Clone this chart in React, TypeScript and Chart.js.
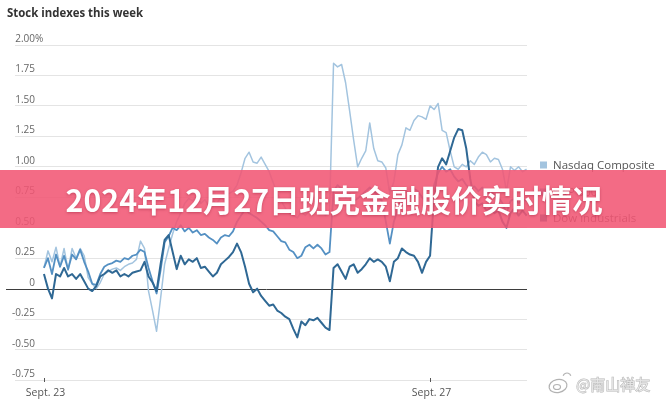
import { useEffect, useRef } from 'react';
import { Chart, registerables } from 'chart.js';
Chart.register(...registerables);

const chartTitle = 'Stock indexes this week';
const bannerText = '2024年12月27日班克金融股价实时情况';
const watermarkText = '@南山禅友';
const seriesNames = ['Nasdaq Composite', 'S&P 500', 'Dow industrials'];
const seriesColors = ['#a3c4df', '#5490c3', '#2f6894'];
const dayLabels = ['Sept. 23', 'Sept. 27'];
const dayTickIndex = [0, 96];
const yTicks = [-0.75, -0.5, -0.25, 0, 0.25, 0.5, 0.75, 1, 1.25, 1.5, 1.75, 2];
const yTickLabels = ['-0.75', '-0.50', '-0.25', '0', '0.25', '0.50', '0.75', '1.00', '1.25', '1.50', '1.75', '2.00'];

const nasdaq = [
  0.17, 0.31, 0.22, 0.34, 0.18, 0.33, 0.15, 0.33, 0.25, 0.33,
  0.27, 0.09, 0.04, 0.0, 0.05, 0.12, 0.14, 0.16, 0.17, 0.15,
  0.18, 0.2, 0.21, 0.24, 0.39, 0.33, -0.02, -0.18, -0.35, -0.08,
  0.2, 0.33, 0.45, 0.55, 0.62, 0.7, 0.74, 0.72, 0.76, 0.7,
  0.73, 0.68, 0.72, 0.7, 0.75, 0.72, 0.78, 0.8, 0.85, 0.95,
  1.07, 1.12, 1.04, 1.03, 1.08, 1.02, 0.96, 0.87, 0.78, 0.72,
  0.66, 0.62, 0.6, 0.58, 0.63, 0.6, 0.64, 0.62, 0.66, 0.63,
  0.6, 0.64, 1.85, 1.82, 1.84, 1.69, 1.46, 1.22, 1.0, 1.07,
  1.13, 1.36, 1.15, 1.05, 1.04, 0.99, 0.78, 0.88, 1.1, 1.18,
  1.32, 1.3, 1.38, 1.42, 1.41, 1.39, 1.5, 1.47, 1.52, 1.3,
  1.28, 1.13, 1.0, 0.98, 1.02, 1.0, 1.05, 1.02, 1.08, 1.12,
  1.1, 1.04, 1.07, 1.06, 0.98, 0.8, 1.0, 0.97, 1.0, 0.96,
  0.98,
];

const sp500 = [
  0.17, 0.25, 0.12, 0.28, 0.18, 0.27, 0.16, 0.28, 0.24, 0.32,
  0.22, 0.14, 0.04, 0.03, 0.12, 0.18, 0.2, 0.21, 0.23, 0.22,
  0.25, 0.24, 0.27, 0.28, 0.32, 0.3, 0.17, 0.06, -0.04, 0.15,
  0.38, 0.43, 0.5, 0.48, 0.52, 0.47, 0.5, 0.46, 0.48, 0.44,
  0.45, 0.42, 0.4, 0.37, 0.42, 0.44, 0.43, 0.47, 0.55, 0.6,
  0.65, 0.62, 0.6, 0.58, 0.55, 0.52, 0.48, 0.47, 0.43, 0.39,
  0.38, 0.32, 0.3, 0.25, 0.27, 0.34, 0.36, 0.33, 0.36, 0.33,
  0.28, 0.3, 0.8, 0.85, 0.82, 0.75, 0.78, 0.72, 0.74, 0.77,
  0.8, 0.83, 0.8, 0.76, 0.72, 0.55, 0.37, 0.55, 0.65, 0.75,
  0.8, 0.78, 0.82, 0.8, 0.75, 0.7, 0.72, 0.85, 0.95, 1.0,
  0.96, 0.98, 0.92, 0.88, 0.9, 0.85, 0.82, 0.84, 0.8, 0.83,
  0.78, 0.8, 0.77, 0.75, 0.7, 0.62, 0.72, 0.74, 0.7, 0.73,
  0.72,
];

const dow = [
  0.12, 0.0, -0.08, 0.12, 0.1, 0.17, 0.1, 0.12, 0.08, 0.12,
  0.06, 0.0, -0.02, 0.02, 0.1, 0.12, 0.15, 0.13, 0.15, 0.1,
  0.12, 0.1, 0.13, 0.14, 0.15, 0.22, 0.1, 0.05, -0.02, 0.2,
  0.4, 0.44, 0.3, 0.16, 0.27, 0.2, 0.24, 0.22, 0.25, 0.17,
  0.18, 0.14, 0.1, 0.13, 0.2, 0.23, 0.26, 0.3, 0.37, 0.3,
  0.18, 0.04, -0.03, 0.0, -0.06, -0.1, -0.14, -0.13, -0.18, -0.2,
  -0.23, -0.25, -0.33, -0.4, -0.27, -0.3, -0.25, -0.26, -0.24, -0.28,
  -0.32, -0.34, 0.17, 0.2, 0.14, 0.08, 0.18, 0.2, 0.13, 0.16,
  0.2, 0.25, 0.22, 0.24, 0.22, 0.18, 0.06, 0.22, 0.25, 0.33,
  0.3, 0.28, 0.27, 0.22, 0.13, 0.22, 0.27, 0.75, 1.0, 1.07,
  1.02, 1.13, 1.24, 1.31, 1.3, 1.15, 0.9, 0.72, 0.68, 0.7,
  0.64, 0.66, 0.62, 0.64, 0.55, 0.5, 0.62, 0.66, 0.6, 0.64,
  0.6,
];

const seriesValues = [nasdaq, sp500, dow];
const LABEL_FONT = '"Open Sans", "Noto Sans", sans-serif';

const decorPlugin = {
  id: 'decor',
  beforeDatasetsDraw(chart: any) {
    const { ctx, chartArea, scales } = chart;
    const py = Math.round(scales.y.getPixelForValue(0)) + 0.5;
    ctx.save();
    ctx.strokeStyle = '#3d3d3d';
    ctx.lineWidth = 1;
    ctx.beginPath();
    ctx.moveTo(6, py);
    ctx.lineTo(chartArea.right, py);
    ctx.stroke();
    ctx.restore();
  },
  afterDraw(chart: any) {
    const { ctx, chartArea, scales } = chart;
    const W = chart.width;
    ctx.save();

    // title
    ctx.fillStyle = '#333333';
    ctx.font = `bold 13px ${LABEL_FONT}`;
    ctx.textAlign = 'left';
    ctx.textBaseline = 'alphabetic';
    ctx.fillText(chartTitle, 7, 17, 136);

    // y labels
    ctx.font = `10px ${LABEL_FONT}`;
    ctx.fillStyle = '#666666';
    yTicks.forEach((v, i) => {
      const py = scales.y.getPixelForValue(v);
      ctx.textAlign = 'right';
      ctx.fillText(yTickLabels[i], 35, py - 3);
      if (i === yTicks.length - 1) {
        ctx.textAlign = 'left';
        ctx.fillText('%', 35, py - 3);
      }
    });

    // x ticks
    ctx.strokeStyle = '#555555';
    ctx.lineWidth = 1;
    ctx.font = `10.5px ${LABEL_FONT}`;
    ctx.fillStyle = '#555555';
    ctx.textAlign = 'center';
    dayTickIndex.forEach((idx, k) => {
      const px = Math.round(scales.x.getPixelForValue(idx)) + 0.5;
      ctx.beginPath();
      ctx.moveTo(px, chartArea.bottom - 2);
      ctx.lineTo(px, chartArea.bottom + 2);
      ctx.stroke();
      ctx.fillText(dayLabels[k], px + 1, 396);
    });

    // legend
    const legendY = [165, 192, 218];
    ctx.font = `11.5px ${LABEL_FONT}`;
    ctx.textAlign = 'left';
    ctx.textBaseline = 'middle';
    seriesNames.forEach((name, i) => {
      ctx.fillStyle = seriesColors[i];
      ctx.fillRect(540, legendY[i] - 3.5, 7, 7);
      ctx.fillStyle = '#555555';
      ctx.fillText(name, 553, legendY[i] + 0.5, 108);
    });

    // watermark
    ctx.strokeStyle = 'rgba(170,170,170,0.9)';
    ctx.lineWidth = 1.2;
    ctx.beginPath();
    ctx.ellipse(558, 386, 9, 6.5, -0.2, 0, Math.PI * 2);
    ctx.stroke();
    ctx.beginPath();
    ctx.ellipse(557, 387, 3.5, 2.5, 0, 0, Math.PI * 2);
    ctx.stroke();
    ctx.beginPath();
    ctx.arc(567, 377, 4, -Math.PI * 0.9, -Math.PI * 0.1);
    ctx.stroke();
    ctx.font = `15px "Noto Sans CJK SC"`;
    ctx.textBaseline = 'middle';
    ctx.fillStyle = 'rgba(255,255,255,0.6)';
    ctx.strokeStyle = 'rgba(175,175,175,0.9)';
    ctx.lineWidth = 1;
    ctx.strokeText(watermarkText, 576, 384);
    ctx.fillText(watermarkText, 576, 384);

    // banner
    ctx.fillStyle = 'rgba(241, 86, 116, 0.88)';
    ctx.fillRect(0, 170, W, 58);
    ctx.font = `bold 30px "Noto Sans CJK SC"`;
    const m = ctx.measureText(bannerText).width;
    const size = 30 * 537 / m;
    ctx.font = `bold ${size.toFixed(2)}px "Noto Sans CJK SC"`;
    ctx.textAlign = 'center';
    ctx.textBaseline = 'middle';
    ctx.shadowColor = 'rgba(120,0,30,0.35)';
    ctx.shadowBlur = 3;
    ctx.shadowOffsetY = 1;
    ctx.fillStyle = '#ffffff';
    ctx.fillText(bannerText, 334, 200);
    ctx.restore();
  },
};

export default function App() {
  const ref = useRef<HTMLCanvasElement | null>(null);
  useEffect(() => {
    document.body.style.margin = '0';
    if (!ref.current) return;
    const orders = [3, 2, 1];
    const widths = [1.5, 1.8, 2];
    const chart = new Chart(ref.current, {
      type: 'line',
      data: {
        datasets: seriesValues.map((vals, s) => ({
          label: seriesNames[s],
          data: vals.map((v, i) => ({ x: i, y: v })),
          borderColor: seriesColors[s],
          backgroundColor: seriesColors[s],
          borderWidth: widths[s],
          pointRadius: 0,
          tension: 0,
          fill: false,
          order: orders[s],
          borderJoinStyle: 'round' as const,
        })),
      },
      options: {
        animation: false,
        responsive: false,
        maintainAspectRatio: false,
        layout: { padding: { left: 15, top: 45, right: 139, bottom: 20 } },
        plugins: { legend: { display: false }, tooltip: { enabled: false } },
        scales: {
          x: {
            type: 'linear',
            min: -7.2,
            max: 120.1,
            grid: { display: false, drawTicks: false },
            ticks: { display: false },
            border: { display: false },
          },
          y: {
            min: -0.75,
            max: 2,
            afterBuildTicks: (scale: any) => {
              scale.ticks = yTicks.map((v) => ({ value: v }));
            },
            grid: {
              drawTicks: false,
              lineWidth: 1,
              color: (c: any) => (c.tick && c.tick.value === 0 ? 'rgba(0,0,0,0)' : '#e4e4e4'),
            },
            ticks: { display: false },
            border: { display: false },
          },
        },
      },
      plugins: [decorPlugin],
    });
    return () => chart.destroy();
  }, []);
  return <canvas ref={ref} width={666} height={400} style={{ display: 'block' }} />;
}
